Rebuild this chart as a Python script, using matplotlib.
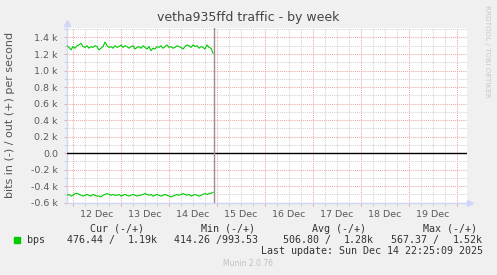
import matplotlib
matplotlib.use('Agg')
import matplotlib.pyplot as plt
import matplotlib.dates as mdates
import matplotlib.ticker as mticker
import numpy as np
import pandas as pd

# munin weekly traffic graph, values in bits per second
times = pd.date_range('2025-12-11 21:00', periods=74, freq='1h')
out_bps = [1300, 1280, 1250, 1290, 1270, 1300, 1310, 1330, 1290, 1280,
           1300, 1270, 1290, 1280, 1300, 1290, 1250, 1270, 1290, 1345,
           1300, 1280, 1290, 1270, 1300, 1280, 1290, 1310, 1280, 1300,
           1290, 1270, 1290, 1300, 1260, 1280, 1290, 1270, 1300, 1280,
           1260, 1290, 1240, 1270, 1260, 1290, 1280, 1300, 1270, 1290,
           1310, 1280, 1290, 1270, 1280, 1300, 1290, 1280, 1260, 1290,
           1310, 1300, 1280, 1310, 1290, 1300, 1270, 1290, 1280, 1260,
           1310, 1280, 1270, 1210]
in_bps = [-510, -500, -520, -510, -490, -485, -500, -510, -520, -510,
          -500, -510, -520, -500, -510, -520, -520, -530, -510, -500,
          -490, -500, -510, -500, -510, -510, -500, -520, -510, -500,
          -510, -520, -510, -500, -510, -520, -510, -510, -500, -490,
          -500, -510, -500, -520, -510, -500, -510, -520, -510, -500,
          -510, -520, -530, -520, -510, -500, -510, -500, -490, -500,
          -510, -500, -520, -510, -500, -510, -520, -510, -500, -490,
          -500, -490, -485, -475]

title = 'vetha935ffd traffic - by week'
ylabel = 'bits in (-) / out (+) per second'
headers = ['Cur (-/+)', 'Min (-/+)', 'Avg (-/+)', 'Max (-/+)']
cur = ('476.44 /', '1.19k')
mn = ('414.26 /993.53', '')
avg = ('506.80 /', '1.28k')
mx = ('567.37 /', '1.52k')
last_update = 'Last update: Sun Dec 14 22:25:09 2025'
now = pd.Timestamp('2025-12-14 22:25')

W, H = 497, 275
fig = plt.figure(figsize=(W / 100, H / 100), dpi=100, facecolor='#F0F0F0')
ax = fig.add_axes([67 / W, 1 - 202.7 / H, 400 / W, 174.7 / H])
ax.set_facecolor('white')

green = '#00CC00'
ax.plot(times, out_bps, color=green, lw=0.8, zorder=4)
ax.plot(times, in_bps, color=green, lw=0.8, zorder=4)
ax.axhline(0, color='black', lw=1.0, zorder=3)
ax.axvline(now, color='#909090', lw=1.0, zorder=5)

ax.set_xlim(pd.Timestamp('2025-12-11 21:00'), pd.Timestamp('2025-12-20 05:00'))
ax.set_ylim(-600, 1515)

# grid: red major, grey minor
ax.xaxis.set_major_locator(mdates.HourLocator(byhour=[0]))
ax.xaxis.set_minor_locator(mdates.HourLocator(byhour=[6, 12, 18]))
ax.xaxis.set_major_formatter(mticker.NullFormatter())
ax.xaxis.set_minor_formatter(mticker.FuncFormatter(
    lambda v, p: mdates.num2date(v).strftime('%d %b') if mdates.num2date(v).hour == 12 else ''))
ax.yaxis.set_major_locator(mticker.MultipleLocator(200))
ax.yaxis.set_minor_locator(mticker.MultipleLocator(100))
ax.yaxis.set_major_formatter(mticker.FuncFormatter(
    lambda v, p: '0.0' if abs(v) < 1e-9 else '%.1f k' % (v / 1000)))

major_c, minor_c = '#EBA8A8', '#D2D2D2'
ax.grid(which='major', color=major_c, lw=0.75, linestyle=(0, (1, 1)), zorder=1)
ax.grid(which='minor', color=minor_c, lw=0.75, linestyle=(0, (1, 1)), zorder=1)
ax.tick_params(which='both', labelsize=6.8, labelcolor='#5a5a5a', width=0.75)
ax.tick_params(which='major', length=2.5, color=major_c)
ax.tick_params(which='minor', length=2.5, color=minor_c)
ax.tick_params(axis='x', which='minor', pad=3)
ax.tick_params(axis='y', pad=4)

for s in ['top', 'right']:
    ax.spines[s].set_visible(False)
for s in ['left', 'bottom']:
    ax.spines[s].set_color('#CFD6F8')
    ax.spines[s].set_linewidth(1.0)
ax.plot([0], [1.03], marker='^', ms=4.5, color='#CFD6F8', transform=ax.transAxes, clip_on=False)
ax.plot([1.008], [0], marker='>', ms=4.5, color='#CFD6F8', transform=ax.transAxes, clip_on=False)


def px(x, y):
    return x / W, 1 - y / H


fig.text(*px(10, 114.5), ylabel, rotation=90, ha='center', va='center', fontsize=8, color='#555555')
fig.text(248 / W, 1 - 18 / H, title, ha='center', va='center', fontsize=9, color='#444444')
fig.text(487 / W, 1 - 5 / H, 'RRDTOOL / TOBI OETIKER', rotation=270, ha='center', va='top',
         fontsize=5.2, color='#C8C8C8')

mono = dict(family='DejaVu Sans Mono', fontsize=7.2, color='#333333', va='center')

for h, x in zip(headers, [90, 201, 311.7, 422.7]):
    fig.text(*px(x, 228.5), h, ha='left', **mono)

fig.patches.append(plt.Rectangle(px(14, 243), 6 / W, 6 / H, transform=fig.transFigure,
                                 color=green, figure=fig))
fig.text(*px(26.7, 240), 'bps', ha='left', **mono)
for (a, b), xa, xb in zip([cur, mn, avg, mx], [66.7, 174, 282.7, 390.7], [158, 0, 374, 482.7]):
    fig.text(*px(xa, 240), a, ha='left', **mono)
    if b:
        fig.text(*px(xb, 240), b, ha='right', **mono)
fig.text(*px(482.7, 251.5), last_update, ha='right', **mono)
fig.text(*px(248, 264), 'Munin 2.0.76', ha='center', va='center', fontsize=5.5, color='#C0C0C0')

fig.savefig('out.png', dpi=100, facecolor=fig.get_facecolor())
